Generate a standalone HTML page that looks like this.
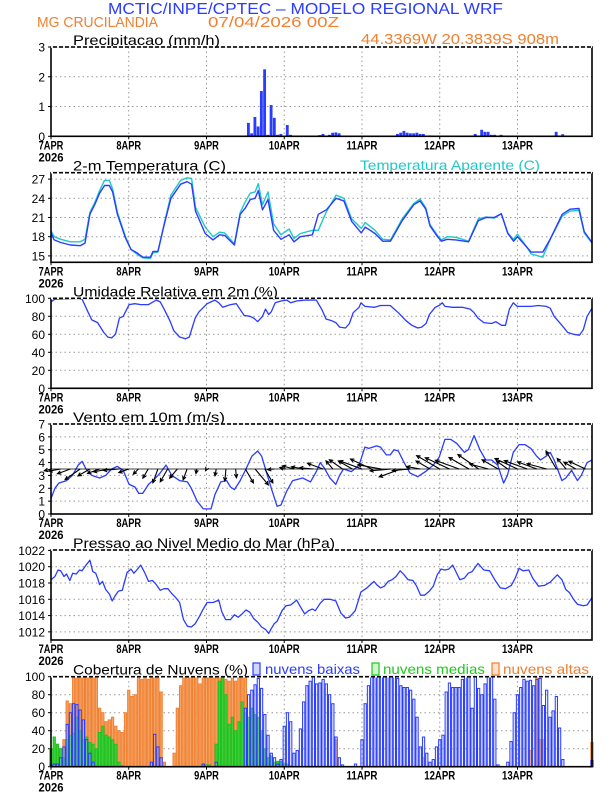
<!DOCTYPE html>
<html><head><meta charset="utf-8"><style>
html,body{margin:0;padding:0;background:#fff}
svg{display:block;font-family:"Liberation Sans",sans-serif}
</style></head><body>
<svg id="chart" width="612" height="792" viewBox="0 0 612 792" xmlns="http://www.w3.org/2000/svg">
<text x="108" y="14" font-size="16" fill="#2a3cff" textLength="395" lengthAdjust="spacingAndGlyphs">MCTIC/INPE/CPTEC – MODELO REGIONAL WRF</text>
<text x="37" y="27" font-size="15" fill="#f08030" textLength="121" lengthAdjust="spacingAndGlyphs">MG CRUCILANDIA</text>
<text x="208" y="27" font-size="15" fill="#f08030" textLength="131" lengthAdjust="spacingAndGlyphs">07/04/2026 00Z</text>
<text x="361" y="44" font-size="15" fill="#f08030" textLength="198" lengthAdjust="spacingAndGlyphs">44.3369W 20.3839S 908m</text>
<text x="360" y="170" font-size="14" fill="#20c8c8" textLength="180" lengthAdjust="spacingAndGlyphs">Temperatura Aparente (C)</text>
<g id="legend6">
<rect x="253" y="663" width="7" height="12" fill="#cfd6ff" stroke="#2a3cff" stroke-width="1.2"/>
<text x="265" y="674" font-size="14" fill="#2a3cff" textLength="95" lengthAdjust="spacingAndGlyphs">nuvens baixas</text>
<rect x="372" y="663" width="7" height="12" fill="#cff5cf" stroke="#20c820" stroke-width="1.2"/>
<text x="383" y="674" font-size="14" fill="#20c820" textLength="102" lengthAdjust="spacingAndGlyphs">nuvens medias</text>
<rect x="492" y="663" width="7" height="12" fill="#fde2cc" stroke="#f08030" stroke-width="1.2"/>
<text x="503" y="674" font-size="14" fill="#f08030" textLength="86" lengthAdjust="spacingAndGlyphs">nuvens altas</text>
</g>
</svg>
<script>
// ---------- data ----------
const dayLabels = ["7APR","8APR","9APR","10APR","11APR","12APR","13APR"];
const precipHours = [6,41,58,59,61,62,63,64,65,66,67,68,69,70,71,73,74,83,84,86,87,88,89,107,108,109,110,111,112,113,114,115,117,131,133,134,135,136,137,139,156,158,160];
const precipValues = [0.02,0.01,0.02,0.02,0.45,0.1,0.65,0.33,1.52,2.25,0.05,1.05,0.62,0.05,0.08,0.38,0.05,0.04,0.08,0.05,0.12,0.13,0.1,0.08,0.12,0.18,0.12,0.1,0.1,0.12,0.08,0.08,0.03,0.08,0.22,0.15,0.15,0.05,0.05,0.05,0.15,0.07,0.02];
const tempHours = [0,1,3,6,9,10.5,12,13.5,15,16.5,18,19,20.5,23,24.7,26.5,28.3,30.7,31.5,33,35,37,40,42,43.4,44.6,47.6,50,52,53.6,56.6,58.4,60,61.5,63,64,65.3,67,68.7,71,73.5,75,77,80.7,82.5,85,88,90.4,92.8,95.8,97,100,102.4,104.8,108.4,112,113.9,115.7,117,119.3,120.5,122.3,125,128.9,131.9,134.3,136.8,139,141,142.8,144,147,148.2,151.8,154.2,157.8,160.2,163,164.6,167];
const tempValues = [18.6,17.5,17.1,16.7,16.6,17,21.5,23,24.8,26,26,25,21.5,17.8,16,15.5,14.8,14.8,15.7,15.7,20,24,26.2,26.6,26.2,22,18.5,17.5,18.3,18.2,16.7,21.5,22.5,23.8,24,25.2,22.2,23.8,19,17.6,18.3,17.2,18,18.3,21.5,22.2,24,23.6,20.4,18.6,19.5,18.5,17.3,17.3,20.5,23,23.6,22.3,19.7,18,17.3,17.6,17.5,17.2,20.5,21,21,21.6,18.5,17.3,18,16.3,15.6,15.6,17.7,21.5,22.3,22.4,18.8,17.1];
const apparentValues = [18.9,18,17.6,17.2,17.2,17.6,21.8,23.3,25.2,26.8,26.8,25.5,21.8,18,16,15.3,14.7,14.6,15.5,15.6,20.2,24.5,26.8,27.2,27.1,22.6,19.5,18,18.7,18.6,16.9,21.8,23.5,24.8,25,26.3,23,25,20,18.3,19.2,17.7,18.5,19,19,21.9,24.5,24,20.8,19.3,20.2,19,17.6,17.5,20.8,23.2,23.9,22.5,19.9,18.2,17.5,18,17.9,17.3,20.8,21.1,20.9,21.6,18.6,17.6,18.4,16.3,15.3,14.8,17.7,21.2,22,22.1,18.6,17];
const rhHours = [0,1.2,8.4,9.6,11.4,12.6,14.4,16.3,17.5,18.7,19.9,21.1,22.3,24.1,25.9,27.7,30.1,32.5,33.7,34.9,36.7,37.9,39.7,41.5,42.7,44.5,45.7,48.2,50.6,51.8,53,55.4,57.2,59.6,61.4,62.6,63.8,65.3,66.2,67.2,68,69.2,71,72.8,74,75.8,78.3,81.9,83.7,84.9,86.7,87.9,89.1,90.9,92.1,93.3,95.1,95.7,96.9,99.9,101.7,104.7,107.2,109.6,111.4,113.2,114.4,115.8,116.8,118.6,119.8,120.8,121.6,124,127,129.4,130.6,131.8,133.6,136,137.3,139.1,140.3,141.5,142.7,143.9,148.1,150.5,152.9,154.1,155.3,157.7,159.5,161.3,163.1,164.3,165.5,167];
const rhValues = [96,99,100,99,85,76,73,62,57,56,60,78,80,93,94,93,93,98,96,88,75,64,57,55,57,78,85,94,98,95,90,93,94,81,80,78,74,80,88,82,85,95,97,98,95,97,98,98,87,77,75,73,68,67,72,84,90,95,91,90,92,92,84,75,70,67,68,72,82,90,92,95,91,90,90,88,84,78,73,72,74,70,70,88,95,91,91,92,91,89,80,70,62,60,59,65,80,89];
const windHours = [0,1.2,2.4,4.8,6.6,8.4,9.6,10.8,12.6,15,16.9,18.7,20.5,22.3,24.1,25.9,27.1,28.3,30.1,31.9,33.7,35.5,37.3,39.7,42.1,43.3,45.1,47,49.4,50.6,52.4,54.2,55.4,56.6,58.4,60.2,62,63.8,65,66.2,68,69.8,71,72.8,74.6,77.7,80.1,81.9,83.1,84.3,86.1,87.9,89.1,90.3,92.7,95.1,96.9,98.1,100.5,101.7,103.5,104.7,105.9,107.2,109,110.8,113.2,115.6,118,119.8,121.6,123.4,125.2,127.6,128.8,130.6,132.4,134.2,136,137.9,139.7,140.9,142.7,144.5,146.3,148.1,149.9,151.1,152.9,154.1,155.3,157.7,158.9,160.7,162.5,163.7,165.5,167];
const windValues = [1.2,2,2.4,2.6,3,3.8,4.1,3.5,3,2.8,3,3.5,3.7,3.4,2.3,2.1,1.6,1.6,2.3,2.7,3.2,3.8,3,2.6,2.5,2,1,0.4,0.4,1.5,2.5,2.6,2.1,1.9,2.6,3.5,4.5,4.9,4.5,3.5,2,0.6,0.7,1.8,2.6,2.8,2.5,3.3,4,3.6,2.8,2.3,3,3.5,3.3,3.8,5.2,5.1,5.3,5.2,4.6,4.6,5,4.9,4,3.2,2.9,3.3,3.8,4.4,5.8,5.8,5.5,4.8,5,6.1,5,4.2,4.2,3.8,2.4,3,4.8,5.4,5.4,5.1,4.5,4.2,4.5,4.8,4.2,2.6,2.8,3.4,2.6,3,4,4.2];
const arrowHours = [0,3,6,9,12,15,18,21,24,27,30,33,36,39,42,45,48,51,54,57,60,63,66,69,72,75,78,81,84,87,90,93,96,99,102,105,108,111,114,117,120,123,126,129,132,135,138,141,144,147,150,153,156,159,162,165];
const arrowDirs = [195,190,200,215,210,200,190,185,200,225,240,250,240,230,250,260,240,260,265,275,300,310,300,185,160,165,170,175,160,130,145,150,160,155,170,185,200,185,170,150,150,155,160,150,145,165,150,145,155,160,160,165,120,130,150,155];
const arrowSpeeds = [1.5,2.6,3,4,3,2.8,3.5,3.4,2.3,1.6,2.3,3.2,3.2,2.6,2.5,1,0.4,1.5,2.6,1.9,3.5,4.5,3.5,1.5,1,2.6,2.7,3,3.6,2.3,3.5,3.5,5.2,5.1,5.2,4.6,5,4,3,3.5,5.8,5.8,5.5,5,5.5,4.2,4,3,5.4,5.3,4.5,4.4,4.5,3,3,4];
const presHours = [0,1.2,2.2,3,4,4.8,5.8,6.7,7.8,8.8,9.6,10.8,12,12.9,13.8,14.4,15,15.9,16.9,18.1,18.9,19.9,20.8,22,23.5,24.7,25.6,26.5,27.7,28.9,30.1,31.3,32.3,33.7,34.9,36.1,37.3,38.5,39.7,40.9,42.1,43.3,44.5,45.7,47,48.2,50,51.8,52.7,53.9,55.4,56.6,57.8,59,60.2,61.4,62.6,63.8,65,66.2,67.2,68,68.9,69.8,71.3,72.5,74,75.8,77.1,78.3,79.5,80.7,81.6,83.1,84.3,86.1,87.9,89.5,90.9,92.1,93.9,95.7,97.5,99.7,100.5,101.7,102.9,104.1,105.3,106.5,107.8,109,110.2,111.7,112.9,114.1,115.3,116.8,118,119.2,120.4,121.6,122.8,124,125,126.2,127.6,128.8,130,131.8,133.6,135.4,137.3,138.7,140.3,142.1,143.3,144.5,145.7,147.5,148.7,150.5,152.3,154.1,156.3,157.7,158.9,160.1,161.3,162.5,164.3,165.5,167];
const presValues = [1018.4,1018.8,1019.6,1019.5,1018.8,1019.1,1018.3,1019.2,1019.1,1019.6,1019.5,1020.2,1020.8,1019.4,1019.2,1018.6,1017.8,1018.2,1017.2,1016.6,1015.8,1016.5,1017,1017.1,1019.3,1019.7,1019.2,1019.6,1020.2,1019.3,1018.2,1018.3,1017.9,1017.1,1017.3,1017.3,1016.7,1016.2,1015.6,1013.5,1012.7,1012.6,1013,1013.8,1014.8,1015.6,1015.6,1015.9,1014.5,1013.5,1013.5,1014.1,1013.8,1014.2,1014.7,1014.4,1013.6,1013.2,1012.6,1012.3,1011.8,1012.4,1013,1013.3,1014.6,1015.2,1015.3,1015.9,1015,1014.2,1014.6,1014.8,1014.6,1015.5,1016,1016,1015.8,1014.3,1013.7,1013.8,1014.6,1016.9,1017.4,1018.2,1017.8,1017.4,1017.6,1018.2,1018.4,1018.8,1019.5,1019,1018.4,1018.3,1017.6,1016.5,1016.5,1017,1017.6,1019,1019.7,1019.6,1019.7,1020.2,1019.4,1018.4,1018.6,1019.2,1019.4,1020.4,1019.6,1019.5,1018.2,1017.4,1017.3,1017.7,1018.6,1019.8,1019.5,1019.6,1018.6,1017.6,1017.7,1018.1,1019,1018.4,1017.2,1016.8,1016,1015.4,1015.2,1015.3,1016.2];
const cloudLow = [2,3,3,10,22,47,60,70,69,63,52,30,15,5, 0,0,0,0,0,0,0,0,0,0,0,0,0,0,0,0,0, 5,36,22,10, 0,0,0,0,0,0,0,0,0,0,0,0, 3,0,0,0,5,0,0,0,0,0,0,0,0,
65,80,85,91,98,87,58,35,15,10,3,8,45,60,50,15,18,42,72,90,95,100,92,93,97,92,80,70,33,10,2, 0,0,0,3,0,
30,70,90,100,100,100,100,100,100,100,100,98,90,88,88,85,75,55,22,33,15,5,
8,22,30,35,83,93,88,88,88,97,100,100,65,100,87,80,92,100,100,75, 2,0,0,
5,28,60,80,88,97,95,96,90,97,98,68,85,55,62,78,43,8, 0,0,0,0,0,0,0,0,7];
const cloudMid = [20,33,25,20,10,30,35,37,55,40,30,33,27,25,20,38,45,35,33,30,25,5,1,
0,0,0,0,0,0,0,0,0,0,0,0,0,0,0,0,0,0,0,0,0,0,0,0, 2,2,2,0,
25,95,100,80,47,55,40,50,72,60,55,65,58,55,40,20,10,12,5,6,6,3,3,1,
0,0,0,0,0,0,0,0,0,0,0,0,0,0,0,0,0,0,0,0,0,0,0,0,0,0,0,0,0,0,0,0,0,0,0,0,0,0,0,0,0,0,0,0,0,0,0,0,0,0,0,0,0,0,0,0,0,0,0,0,0,0,0,0,0];
const cloudHigh = [0,0,5,20,30,73,70,100,100,100,100,100,100,100,100,65,60,50,52,55,45,40,38,60,85,78,80,100,97,100,97,100,100,100,83,5,0,0,
15,65,90,100,100,100,100,100,92,100,100,100,100,100,100,100,97,95,100,95,100,100,100,
50,30,20,15,10,5,3,0,0,0,
0,0,0,0,0,0,0,0,0,0,0,0,0,0,0,0,0, 30,
0,0,0,0,0,0,0,0,0,0,0,0,0,0,0,0,0,0,0,0,0,0,0,0,0,0, 10,
0,0,0,0,0,0,0,0,0,0,0,0,0,0,0,0,0,0,0,0,0,0,0,0,0,0,0,0,0,0,0,0, 18,0,100,30,30,
0,0,0,0,0,0,0,0,0,0,0,0,0,0, 27];

// ---------- drawing ----------
const NS = "http://www.w3.org/2000/svg";
const svg = document.getElementById('chart');
const X0 = 51, X1 = 592, HMAX = 167;
function xh(h){ return X0 + (X1 - X0) * h / HMAX; }
function mk(tag, attrs, parent){
  const e = document.createElementNS(NS, tag);
  for (const k in attrs) e.setAttribute(k, attrs[k]);
  (parent || svg).appendChild(e);
  return e;
}
const panels = [
  {name:'precip', top:47, bot:136.3, min:0, max:3, ticks:[0,1,2,3], title:'Precipitacao (mm/h)', tw:147},
  {name:'temp', top:172.7, bot:262.3, min:14, max:28, ticks:[15,18,21,24,27], title:'2-m Temperatura (C)', tw:153},
  {name:'rh', top:298.3, bot:388.3, min:0, max:100, ticks:[0,20,40,60,80,100], title:'Umidade Relativa em 2m (%)', tw:205},
  {name:'wind', top:424, bot:514, min:0, max:7, ticks:[0,1,2,3,4,5,6,7], title:'Vento em 10m (m/s)', tw:152},
  {name:'pressure', top:550, bot:640, min:1011, max:1022.05, ticks:[1012,1014,1016,1018,1020,1022], title:'Pressao ao Nivel Medio do Mar (hPa)', tw:262},
  {name:'cloud', top:676.7, bot:766.7, min:0, max:100, ticks:[0,20,40,60,80,100], title:'Cobertura de Nuvens (%)', tw:175}
];
panels.forEach(p => { p.y = v => p.bot - (p.bot - p.top) * (v - p.min) / (p.max - p.min); });

panels.forEach(p => {
  const g = mk('g', {});
  
  
  p.g = g;
  p.ticks.forEach(t => {
    const yy = p.y(t);
    if (yy > p.top + 1 && yy < p.bot - 1) {
      const l = mk('line', {x1:X0, x2:X1, y1:yy, y2:yy, stroke:'#999', 'stroke-width':1, 'stroke-dasharray':'1.5,3'}, g);
      
      
    }
    const tl = mk('text', {x:45, y:yy + 4.5, 'font-size':12, 'text-anchor':'end', fill:'#000'}, g);
    
    
    tl.textContent = t;
    const tk = mk('line', {x1:X0-3, x2:X0, y1:yy, y2:yy, stroke:'#000'}, g);
    
    
  });
  dayLabels.forEach((d, i) => {
    const xx = xh(i * 24);
    if (i > 0) {
      const l = mk('line', {x1:xx, x2:xx, y1:p.top, y2:p.bot, stroke:'#999', 'stroke-width':1, 'stroke-dasharray':'1.5,3'}, g);
      
      
    }
    const tl = mk('text', {x:xx, y:p.bot + 13, 'font-size':12, 'font-weight':'bold', 'text-anchor':'middle', fill:'#000', textLength:d.length * 6.2, lengthAdjust:'spacingAndGlyphs'}, g);
    
    
    tl.textContent = d;
    const tk = mk('line', {x1:xx, x2:xx, y1:p.bot, y2:p.bot + 3, stroke:'#000'}, g);
    
    
  });
  const yl = mk('text', {x:xh(0), y:p.bot + 25, 'font-size':12, 'font-weight':'bold', 'text-anchor':'middle', fill:'#000', textLength:25, lengthAdjust:'spacingAndGlyphs'}, g);
  
  
  yl.textContent = '2026';
  const tt = mk('text', {x:73, y:p.top - 2, 'font-size':14, fill:'#000', textLength:p.tw, lengthAdjust:'spacingAndGlyphs'}, g);
  
  
  tt.textContent = p.title;
});

function line(p, hs, vs, color, name, w){
  const n = Math.min(hs.length, vs.length);
  let d = '';
  for (let i = 0; i < n; i++) d += (i ? 'L' : 'M') + xh(hs[i]).toFixed(1) + ',' + p.y(vs[i]).toFixed(1);
  const e = mk('path', {d:d, fill:'none', stroke:color, 'stroke-width':w || 1.4, 'stroke-linejoin':'round'}, p.g);
  
  
}

const P = panels;
const bw = (X1 - X0) / HMAX;
for (let i = 0; i < precipHours.length; i++) {
  const y = P[0].y(precipValues[i]);
  const b = mk('rect', {x:xh(precipHours[i]) - bw/2, y:y, width:bw - 0.4, height:Math.max(0.8, P[0].bot - y), fill:'#2a3cff'}, P[0].g);
  
  
}
line(P[1], tempHours, apparentValues, '#20c8c8', 'apparent-temp-line', 1.4);
line(P[1], tempHours, tempValues, '#2a3cff', 'temp-line', 1.4);
line(P[2], rhHours, rhValues, '#2a3cff', 'rh-line', 1.3);
line(P[3], windHours, windValues, '#2a3cff', 'wind-speed-line', 1.3);
const base = P[3].y(3.5);
for (let i = 0; i < arrowHours.length; i++) {
  const a = arrowDirs[i] * Math.PI / 180, L = arrowSpeeds[i] * 4.6;
  const x0 = xh(arrowHours[i]), x1 = x0 + L * Math.cos(a), y1 = base - L * Math.sin(a);
  const h1 = a + Math.PI - 0.45, h2 = a + Math.PI + 0.45;
  const d = `M${x0},${base}L${x1},${y1}M${x1 + 4*Math.cos(h1)},${y1 - 4*Math.sin(h1)}L${x1},${y1}L${x1 + 4*Math.cos(h2)},${y1 - 4*Math.sin(h2)}`;
  const e = mk('path', {d:d, fill:'none', stroke:'#000', 'stroke-width':1.1}, P[3].g);
  
  
}
const bl = mk('line', {x1:X0, x2:X1, y1:base, y2:base, stroke:'#000', 'stroke-width':0.8}, P[3].g);


line(P[4], presHours, presValues, '#2a3cff', 'pressure-line', 1.3);
function cloudBars(arr, fill, stroke, name){
  for (let h = 0; h < arr.length; h++) {
    if (!arr[h]) continue;
    const y = P[5].y(arr[h]);
    const b = mk('rect', {x:xh(h) - bw/2 + 0.5, y:y, width:bw - 1, height:P[5].bot - y, fill:fill, stroke:stroke, 'stroke-width':1}, P[5].g);
    
    
  }
}
cloudBars(cloudHigh, '#f5a366', '#f08030', 'cloud-high-bar');
cloudBars(cloudMid, '#3cd23c', '#20c020', 'cloud-mid-bar');
cloudBars(cloudLow, 'rgba(200,210,255,0.3)', '#2a3cff', 'cloud-low-bar');

panels.forEach(p => {
  const f = mk('rect', {x:X0, y:p.top, width:X1 - X0, height:p.bot - p.top, fill:'none', stroke:'#000', 'stroke-width':1.6}, p.g);
  
  
  const t = mk('line', {x1:X0, x2:X1, y1:p.top, y2:p.top, stroke:'#fff', 'stroke-width':1.7, 'stroke-dasharray':'2,4'}, p.g);
  
  
});
</script>
</body></html>
